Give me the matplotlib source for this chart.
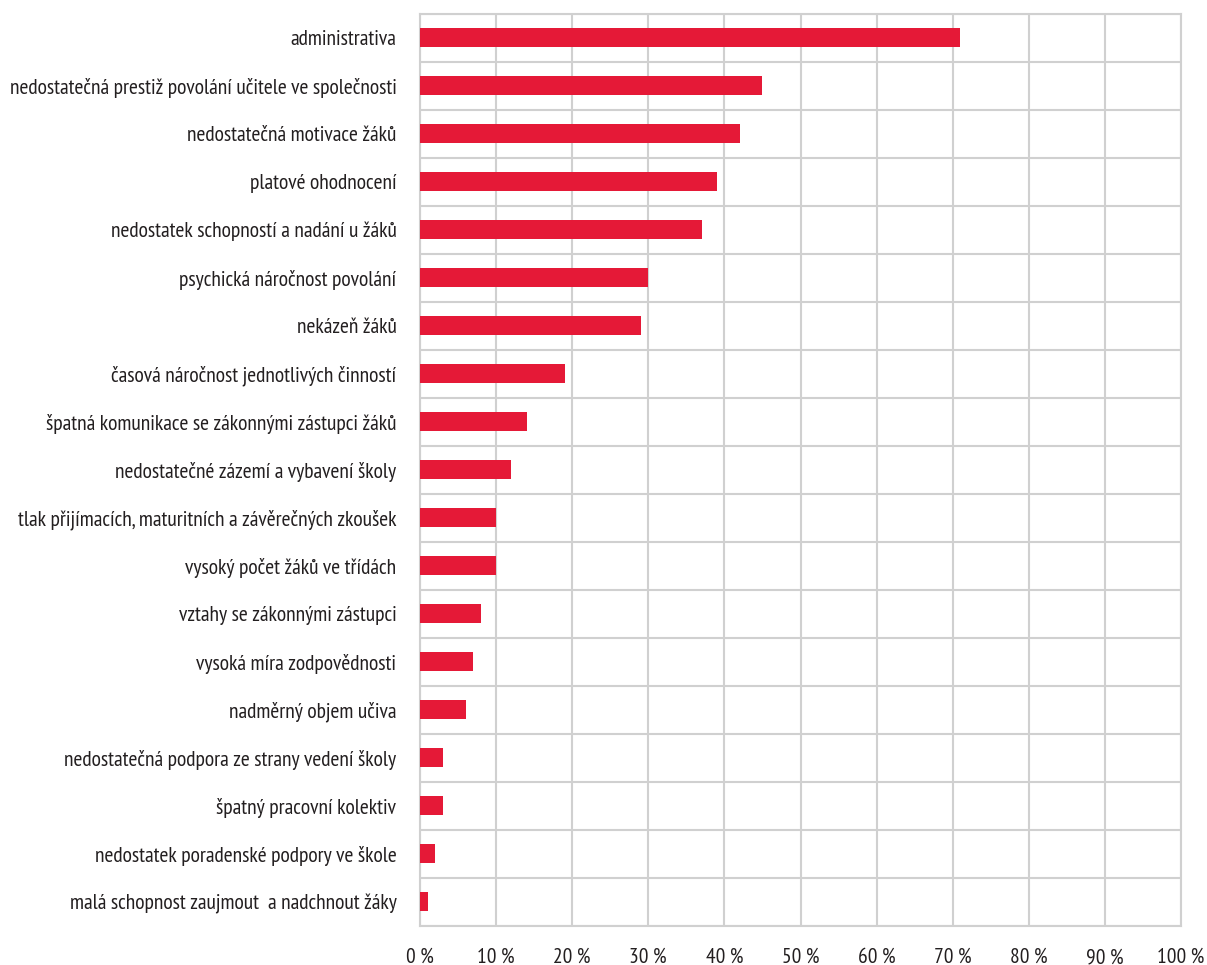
import matplotlib
matplotlib.use("Agg")
import matplotlib.pyplot as plt
from matplotlib import font_manager
from matplotlib.textpath import TextPath
from matplotlib.font_manager import FontProperties

categories = [
    "administrativa",
    "nedostatečná prestiž povolání učitele ve společnosti",
    "nedostatečná motivace žáků",
    "platové ohodnocení",
    "nedostatek schopností a nadání u žáků",
    "psychická náročnost povolání",
    "nekázeň žáků",
    "časová náročnost jednotlivých činností",
    "špatná komunikace se zákonnými zástupci žáků",
    "nedostatečné zázemí a vybavení školy",
    "tlak přijímacích, maturitních a závěrečných zkoušek",
    "vysoký počet žáků ve třídách",
    "vztahy se zákonnými zástupci",
    "vysoká míra zodpovědnosti",
    "nadměrný objem učiva",
    "nedostatečná podpora ze strany vedení školy",
    "špatný pracovní kolektiv",
    "nedostatek poradenské podpory ve škole",
    "malá schopnost zaujmout  a nadchnout žáky",
]
values = [71, 45, 42, 39, 37, 30, 29, 19, 14, 12, 10, 10, 8, 7, 6, 3, 3, 2, 1]
xticks = [0, 10, 20, 30, 40, 50, 60, 70, 80, 90, 100]
xtick_labels = [f"{t} %" for t in xticks]

names = {f.name for f in font_manager.fontManager.ttflist}
preferred = ["Myriad Pro Condensed", "PT Sans Narrow", "Roboto Condensed", "Fira Sans Condensed",
             "IBM Plex Sans Condensed", "Liberation Sans Narrow", "Roboto"]
main = next((p for p in preferred if p in names), "DejaVu Sans")
fam = [main, "DejaVu Sans"]
plt.rcParams["font.family"] = fam

# size the labels so the longest one spans about 385 px as in the reference
fp = FontProperties(family=main, size=10)
w10 = TextPath((0, 0), categories[1], prop=fp).get_extents().width  # in points at size 10
target_px = 385.0
fs = 10 * (target_px * 72 / 100) / w10
fs = max(9, min(fs, 16))

text_color = "#231f20"
grid_color = "#d0d0d0"
bar_color = "#e51937"

fig = plt.figure(figsize=(12.07, 9.65), dpi=100)
ax = fig.add_axes([420 / 1207, 1 - 925.7 / 965, (1181 - 420) / 1207, (925.7 - 13.7) / 965])

n = len(categories)
ypos = list(range(n))
ax.barh(ypos, values, height=0.4, color=bar_color, zorder=3)
ax.set_ylim(n - 0.5, -0.5)
ax.set_xlim(0, 100)

ax.set_xticks(xticks)
ax.set_xticklabels(xtick_labels, fontsize=fs, color=text_color)
ax.set_yticks(ypos)
ax.set_yticklabels(categories, fontsize=fs, color=text_color)
ax.tick_params(axis="both", length=0)
ax.tick_params(axis="y", pad=17)
ax.tick_params(axis="x", pad=16)

ax.set_yticks([i + 0.5 for i in range(-1, n)], minor=True)
ax.grid(True, axis="x", which="major", color=grid_color, linewidth=1.5, zorder=0)
ax.grid(True, axis="y", which="minor", color=grid_color, linewidth=1.5, zorder=0)
ax.tick_params(axis="y", which="minor", length=0)
for s in ax.spines.values():
    s.set_color(grid_color)
    s.set_linewidth(1.5)

fig.savefig("out.png", dpi=100)
